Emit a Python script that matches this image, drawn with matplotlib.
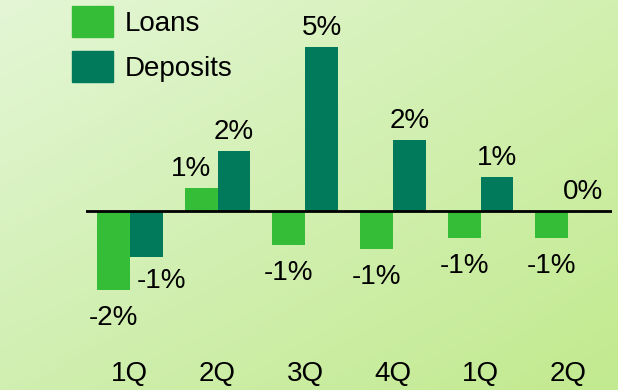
import numpy as np
import matplotlib
matplotlib.use("Agg")
import matplotlib.pyplot as plt
from matplotlib.patches import Patch

plt.rcParams['font.family'] = ['Liberation Sans', 'DejaVu Sans']

# Quarter-on-quarter change, in percent
quarters = ["1Q", "2Q", "3Q", "4Q", "1Q", "2Q"]
loans = [-2.41, 0.70, -1.04, -1.16, -0.82, -0.82]
deposits = [-1.40, 1.83, 5.00, 2.16, 1.04, 0.00]
series_names = ["Loans", "Deposits"]

loan_color = "#35bd37"
deposit_color = "#007a5b"
FS = 20

W, H, DPI = 618, 390, 100
fig = plt.figure(figsize=(W / DPI, H / DPI), dpi=DPI)

# soft diagonal green backdrop
bg = fig.add_axes([0, 0, 1, 1], zorder=-10)
tl = np.array([228, 246, 214]) / 255
tr = np.array([210, 240, 176]) / 255
bl = np.array([208, 239, 176]) / 255
br = np.array([194, 234, 143]) / 255
u = np.linspace(0, 1, 200)[None, :, None]
v = np.linspace(0, 1, 130)[:, None, None]
img = (1 - v) * ((1 - u) * tl + u * tr) + v * ((1 - u) * bl + u * br)
bg.imshow(img, aspect="auto", extent=[0, 1, 0, 1], interpolation="bilinear")
bg.axis("off")

# plotting area
left, right, top, bottom = 86, 612, 0, 350
ax = fig.add_axes([left / W, 1 - bottom / H, (right - left) / W, (bottom - top) / H])
ax.set_facecolor("none")

x = np.arange(len(quarters))
w = 0.375
ax.bar(x - w / 2, loans, width=w, color=loan_color, zorder=2)
ax.bar(x + w / 2, deposits, width=w, color=deposit_color, zorder=2)
ax.axhline(0, color="black", lw=2, zorder=3)

px_per_unit = 32.8
zero_px = 211
ax.set_ylim(-(bottom - zero_px) / px_per_unit, (zero_px - top) / px_per_unit)
ax.set_xlim(-0.5, 5.5)

for s in ax.spines.values():
    s.set_visible(False)
ax.set_yticks([])
ax.set_xticks(x)
ax.set_xticklabels(quarters, fontsize=FS)
ax.tick_params(axis="x", length=0, pad=8)


def label(xc, val, dx=0, dy=None):
    if dy is None:
        dy = 12 if val >= 0 else -35
    ax.annotate(f"{val:.0f}%", (xc, val), xytext=(dx, dy),
                textcoords="offset pixels", ha="center", va="baseline",
                fontsize=FS, color="black")


for i, val in enumerate(loans):
    dx = -10 if i == 1 else 0
    label(x[i] - w / 2, val, dx=dx)
for i, val in enumerate(deposits):
    if i == 0:
        label(x[i] + w / 2, val, dx=15, dy=-31)
    else:
        label(x[i] + w / 2, val, dx=-2 if i == 5 else 0)

handles = [Patch(color=loan_color), Patch(color=deposit_color)]
fig.legend(handles, series_names, loc="upper left",
           bbox_to_anchor=(72 / W, 1 - 6 / H), frameon=False, fontsize=FS,
           handlelength=1.476, handleheight=1.34, labelspacing=0.5,
           handletextpad=0.43, borderpad=0, borderaxespad=0)

fig.savefig("out.png", dpi=DPI)
